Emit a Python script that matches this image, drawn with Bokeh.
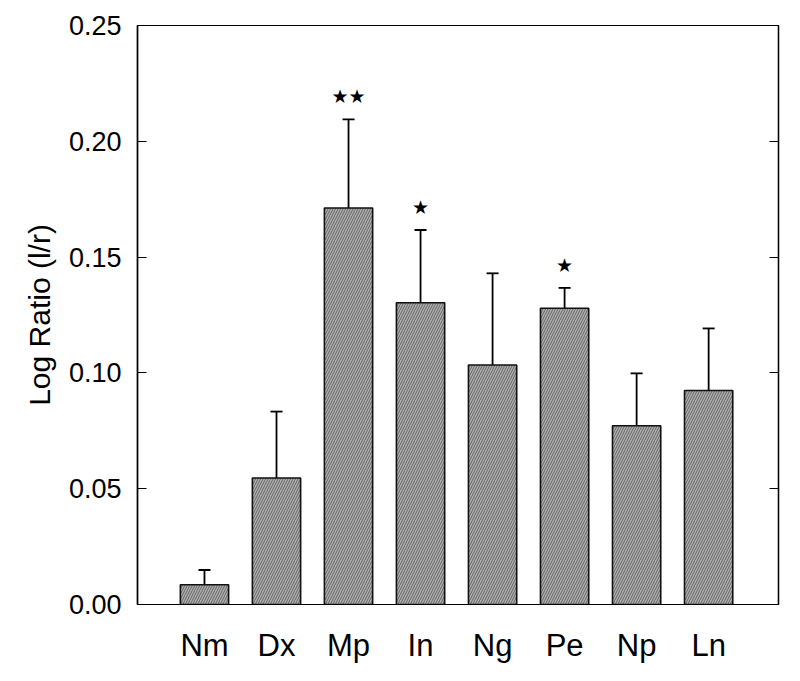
from bokeh.plotting import figure
from bokeh.models import (ColumnDataSource, FixedTicker, LinearAxis, Range1d,
                          Whisker, TeeHead, NumeralTickFormatter)
from bokeh.core.properties import value
from bokeh.embed import file_html
from bokeh.resources import INLINE

# ---- data ----
categories = ["Nm", "Dx", "Mp", "In", "Ng", "Pe", "Np", "Ln"]
means = [0.0085, 0.0546, 0.1712, 0.1303, 0.1034, 0.1279, 0.0772, 0.0924]
errors = [0.0064, 0.0287, 0.0383, 0.0314, 0.0396, 0.0088, 0.0226, 0.0268]
stars = ["", "", "★★", "★", "", "★", "", ""]
y_ticks = [0.0, 0.05, 0.10, 0.15, 0.20, 0.25]

xs = list(range(1, len(categories) + 1))
upper = [m + e for m, e in zip(means, errors)]
lower = [m - e for m, e in zip(means, errors)]

src = ColumnDataSource(dict(x=xs, top=means, upper=upper, lower=lower, star=stars))

FONT = "Liberation Sans"

p = figure(width=784, height=665, output_backend="svg", toolbar_location=None,
           x_range=Range1d(0.07, 8.97), y_range=Range1d(0, 0.25),
           min_border_left=137, min_border_right=6, min_border_top=25,
           min_border_bottom=53)
p.background_fill_color = "white"
p.border_fill_color = "white"
p.outline_line_color = "black"
p.outline_line_width = 1.2
p.xgrid.visible = False
p.ygrid.visible = False

p.vbar(x="x", top="top", bottom=0, width=0.67, source=src,
       fill_color="#b0b0b0", line_color="#111111", line_width=1.6,
       hatch_pattern="/", hatch_color="#333333", hatch_scale=5,
       hatch_weight=0.9, hatch_alpha=0.7)

w = Whisker(base="x", upper="upper", lower="lower", source=src,
            line_color="black", line_width=1.8,
            upper_head=TeeHead(size=12, line_width=1.8, line_color="black"),
            lower_head=TeeHead(size=12, line_width=1.8, line_color="black"))
p.add_layout(w)

p.text(x="x", y="upper", text="star", source=src, y_offset=-23,
       text_align="center", text_baseline="middle",
       text_font=value("DejaVu Sans"), text_font_size="19px",
       text_color="black")

# x axis
xa = p.xaxis[0]
xa.ticker = FixedTicker(ticks=xs)
xa.major_label_overrides = {x: c for x, c in zip(xs, categories)}
xa.major_tick_line_color = None
xa.minor_tick_line_color = None
xa.axis_line_color = "black"
xa.axis_line_width = 1.2
xa.major_label_text_font = FONT
xa.major_label_text_font_size = "31px"
xa.major_label_text_color = "black"
xa.major_label_standoff = 17

# y axis
ya = p.yaxis[0]
ya.ticker = FixedTicker(ticks=y_ticks)
ya.formatter = NumeralTickFormatter(format="0.00")
ya.minor_tick_line_color = None
ya.major_tick_in = 9
ya.major_tick_out = 0
ya.major_tick_line_width = 1.2
ya.axis_line_width = 1.6
ya.major_label_text_font = FONT
ya.major_label_text_font_size = "27px"
ya.major_label_text_color = "black"
ya.major_label_standoff = 16
ya.axis_label = "Log Ratio (l/r)"
ya.axis_label_text_font = FONT
ya.axis_label_text_font_size = "30px"
ya.axis_label_text_font_style = "normal"
ya.axis_label_text_color = "black"
ya.axis_label_standoff = 10

ra = LinearAxis(ticker=FixedTicker(ticks=y_ticks))
ra.major_label_text_color = None
ra.major_label_text_font_size = "1px"
ra.minor_tick_line_color = None
ra.major_tick_in = 9
ra.major_tick_out = 0
ra.major_tick_line_width = 1.2
ra.axis_line_width = 1.4
ra.major_label_standoff = 0
p.add_layout(ra, "right")

open("out.html", "w").write(file_html(p, INLINE))
